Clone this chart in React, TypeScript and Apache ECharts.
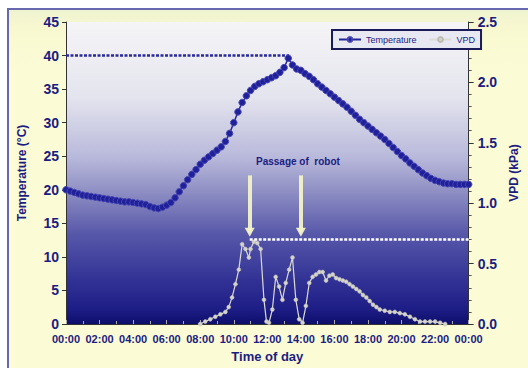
import React, { useEffect, useRef } from 'react';
import * as echarts from 'echarts';

// Temperature (°C) every 15 minutes from 00:00 to 24:00
const tempStepHours = 0.25;
const temperature = [
  20.0, 19.8, 19.6, 19.4,
  19.2, 19.1, 19.0, 18.9,
  18.8, 18.7, 18.6, 18.5,
  18.4, 18.3, 18.2, 18.2,
  18.1, 18.0, 17.9, 17.8,
  17.5, 17.3, 17.2, 17.4,
  17.7, 18.1, 18.8, 19.7,
  20.6, 21.5, 22.3, 23.0,
  23.8, 24.4, 24.9, 25.4,
  25.9, 26.4, 27.2, 28.4,
  30.0, 31.6, 33.0, 34.0,
  34.8, 35.4, 35.8, 36.1,
  36.4, 36.7, 37.0, 37.5,
  38.2, 39.6, 38.6, 38.0,
  37.8, 37.3, 36.9, 36.4,
  35.8, 35.3, 34.8, 34.3,
  33.8, 33.3, 32.8, 32.3,
  31.7, 31.1, 30.5, 30.0,
  29.5, 29.0, 28.5, 28.0,
  27.5, 26.9, 26.3, 25.7,
  25.1, 24.6, 24.0, 23.5,
  23.0, 22.5, 22.1, 21.7,
  21.4, 21.2, 21.0, 20.9,
  20.9, 20.8, 20.8, 20.8,
  20.8,
];

// VPD (kPa): [hour of day, value]
const vpdHours = [
  8.0, 8.3, 8.6, 8.9, 9.2, 9.5, 9.7, 9.9, 10.1, 10.3, 10.5, 10.7, 10.9, 11.0, 11.2, 11.4, 11.6, 11.8, 11.95,
  12.1, 12.3, 12.5, 12.7, 12.9, 13.1, 13.3, 13.5, 13.7, 13.9, 14.1, 14.3, 14.5, 14.7, 14.9, 15.1, 15.3, 15.5,
  15.7, 15.9, 16.1, 16.3, 16.5, 16.7, 16.9, 17.1, 17.3, 17.5, 17.7, 17.9, 18.1, 18.3, 18.5, 18.7, 19.0, 19.3,
  19.6, 19.9, 20.2, 20.5, 20.8, 21.1, 21.4, 21.7, 22.0, 22.3, 22.6,
];
const vpdValues = [
  0.0, 0.02, 0.04, 0.06, 0.08, 0.10, 0.14, 0.22, 0.33, 0.45, 0.66, 0.62, 0.55, 0.62, 0.68, 0.67, 0.62, 0.20, 0.02,
  0.01, 0.12, 0.39, 0.31, 0.20, 0.34, 0.45, 0.55, 0.20, 0.04, 0.01, 0.15, 0.34, 0.39, 0.41, 0.43, 0.43, 0.36,
  0.40, 0.41, 0.38, 0.37, 0.36, 0.35, 0.33, 0.31, 0.29, 0.27, 0.24, 0.22, 0.19, 0.16, 0.14, 0.12, 0.11, 0.10,
  0.10, 0.09, 0.08, 0.06, 0.04, 0.02, 0.02, 0.02, 0.02, 0.01, 0.0,
];

// Reference lines / annotations
const tempThreshold = 40; // °C, drawn until the temperature peak
const tempThresholdEnd = 13.3; // h
const vpdThreshold = 0.7; // kPa
const vpdThresholdStart = 10.95; // h
const robotPassages = [10.95, 14.0]; // h
const arrowTop = 1.23; // kPa
const arrowBottom = 0.76; // kPa

const xTicks = { min: 0, max: 24, interval: 2 };
const leftTicks = { min: 0, max: 45, interval: 5 };
const rightTicks = { min: 0, max: 2.5, interval: 0.5 };

const NAVY = '#1c1c82';
const FONT = '"Liberation Sans", Arial, sans-serif';

export default function App() {
  const ref = useRef<HTMLDivElement>(null);

  useEffect(() => {
    if (!ref.current) return;
    const chart = echarts.init(ref.current, undefined, { renderer: 'svg' });
    const tempData = temperature.map((v, i) => [i * tempStepHours, v]);
    const vpdData = vpdHours.map((h, i) => [h, vpdValues[i]]);

    const option: any = {
      animation: false,
      textStyle: { fontFamily: FONT },
      grid: {
        left: 66,
        right: 52,
        top: 22,
        bottom: 44,
        show: true,
        borderWidth: 0,
        backgroundColor: new echarts.graphic.LinearGradient(0, 0, 0, 1, [
          { offset: 0, color: '#f5f5f7' },
          { offset: 0.25, color: '#e4e4ee' },
          { offset: 0.45, color: '#b8b8db' },
          { offset: 0.56, color: '#8f8fc4' },
          { offset: 0.7, color: '#5858aa' },
          { offset: 0.85, color: '#333396' },
          { offset: 0.95, color: '#1d1d86' },
          { offset: 1, color: '#0e0e6c' },
        ]),
      },
      legend: {
        left: 332,
        top: 30,
        padding: [5, 6, 5, 6],
        itemWidth: 22,
        itemHeight: 6,
        itemGap: 12,
        backgroundColor: '#e8e8f3',
        borderColor: '#1a1a5a',
        borderWidth: 2,
        textStyle: { fontSize: 9, color: NAVY, fontFamily: FONT },
        data: ['Temperature', 'VPD'],
      },
      xAxis: {
        type: 'value',
        ...xTicks,
        name: 'Time of day',
        nameLocation: 'middle',
        nameGap: 26,
        nameTextStyle: { fontSize: 13, fontWeight: 'bold', color: NAVY, fontFamily: FONT },
        axisLine: { show: true, lineStyle: { color: '#333', width: 1 } },
        axisTick: { show: true, inside: true, length: 4, lineStyle: { color: '#aaa' } },
        minorTick: { show: true, splitNumber: 2, length: 3, lineStyle: { color: '#aaa' } },
        splitLine: { show: false },
        axisLabel: {
          margin: 9,
          fontSize: 11,
          fontWeight: 'bold',
          color: NAVY,
          fontFamily: FONT,
          formatter: (v: number) => String(v % 24).padStart(2, '0') + ':00',
        },
      },
      yAxis: [
        {
          type: 'value',
          ...leftTicks,
          name: 'Temperature (°C)',
          nameLocation: 'middle',
          nameRotate: 90,
          nameGap: 38,
          nameTextStyle: { fontSize: 12, fontWeight: 'bold', color: NAVY, fontFamily: FONT },
          axisLine: { show: true, lineStyle: { color: '#333', width: 1 } },
          axisTick: { show: true, length: 4, lineStyle: { color: '#333' } },
          splitLine: { show: false },
          axisLabel: { margin: 7, fontSize: 14, fontWeight: 'bold', color: NAVY, fontFamily: FONT },
        },
        {
          type: 'value',
          ...rightTicks,
          position: 'right',
          name: 'VPD (kPa)',
          nameLocation: 'middle',
          nameRotate: 90,
          nameGap: 36,
          nameTextStyle: { fontSize: 12, fontWeight: 'bold', color: NAVY, fontFamily: FONT },
          axisLine: { show: true, lineStyle: { color: '#333', width: 1 } },
          axisTick: { show: true, length: 5, lineStyle: { color: '#333' } },
          minorTick: { show: true, splitNumber: 5, length: 3, lineStyle: { color: '#555' } },
          splitLine: { show: false },
          axisLabel: {
            margin: 9,
            fontSize: 14,
            fontWeight: 'bold',
            color: NAVY,
            fontFamily: FONT,
            formatter: (v: number) => v.toFixed(1),
          },
        },
      ],
      series: [
        {
          name: 'Temperature',
          type: 'line',
          yAxisIndex: 0,
          data: tempData,
          symbol: 'circle',
          symbolSize: 6.5,
          showAllSymbol: true,
          lineStyle: { color: '#24249a', width: 1.5 },
          itemStyle: { color: '#20209a', borderColor: '#4646b4', borderWidth: 1 },
          z: 5,
          markLine: {
            silent: true,
            symbol: ['none', 'none'],
            label: { show: false },
            lineStyle: { color: '#2a2a9c', width: 2.5, type: [3, 1.5] },
            data: [[{ coord: [0, tempThreshold] }, { coord: [tempThresholdEnd, tempThreshold] }]],
          },
        },
        {
          name: 'VPD',
          type: 'line',
          yAxisIndex: 1,
          data: vpdData,
          symbol: 'circle',
          symbolSize: 4,
          showAllSymbol: true,
          lineStyle: { color: '#dcdcd4', width: 1.2 },
          itemStyle: { color: '#d4d4cc', borderColor: '#bdbdb6', borderWidth: 0.5 },
          z: 4,
          markLine: {
            silent: true,
            symbol: ['none', 'none'],
            label: { show: false },
            data: [
              [
                { coord: [vpdThresholdStart, vpdThreshold], lineStyle: { color: '#ffffff', width: 2.5, type: [3, 1.5] } },
                { coord: [24, vpdThreshold] },
              ],
              ...robotPassages.map((h) => [
                {
                  coord: [h, arrowTop],
                  symbol: 'none',
                  lineStyle: { color: '#f2f2c8', width: 4, type: 'solid', opacity: 0.95 },
                },
                { coord: [h, arrowBottom], symbol: 'triangle', symbolSize: [10, 9], symbolRotate: 180 },
              ]),
            ],
          },
        },
      ],
      graphic: [
        {
          type: 'text',
          left: 256,
          top: 156,
          silent: true,
          style: { text: 'Passage of  robot', fontSize: 10, fontWeight: 'bold', fill: NAVY, fontFamily: FONT },
        },
      ],
    };
    chart.setOption(option);
    return () => chart.dispose();
  }, []);

  return (
    <div style={{ position: 'fixed', left: 0, top: 0, width: 528, height: 368, background: '#ffffff' }}>
      <div
        style={{
          position: 'absolute',
          left: 7,
          top: 8,
          width: 521,
          height: 360,
          boxSizing: 'border-box',
          borderLeft: '2px solid #6868b0',
          borderTop: '2px solid #6868b0',
          background: 'linear-gradient(180deg, #eef3d0 0px, #f8f8d0 18px, #fbfbd6 60px, #fbfbd6 100%)',
        }}
      />
      <div ref={ref} style={{ position: 'absolute', left: 0, top: 0, width: 528, height: 368 }} />
    </div>
  );
}
